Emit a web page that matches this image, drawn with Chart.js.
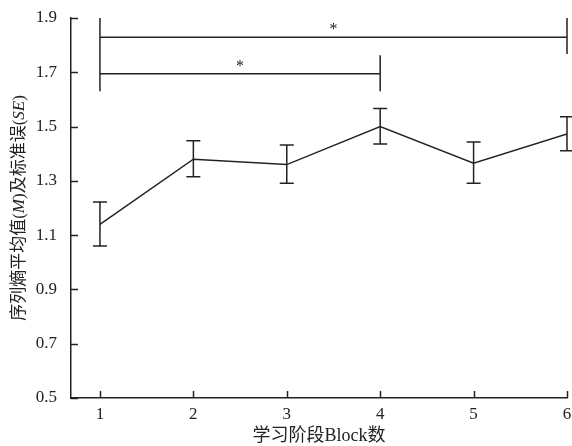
<!DOCTYPE html>
<html>
<head>
<meta charset="utf-8">
<script src="https://cdn.jsdelivr.net/npm/chart.js@4/dist/chart.umd.min.js"></script>
<style>
html,body{margin:0;padding:0;background:#fff;}
#wrap{width:572px;height:446px;}
</style>
</head>
<body>
<div id="wrap"><canvas id="c" width="572" height="446"></canvas></div>
<script>
// ---- data ----
const blocks = [1, 2, 3, 4, 5, 6];
const meanValues = [1.14, 1.38, 1.36, 1.50, 1.365, 1.473];
const errUpper = [1.222, 1.448, 1.432, 1.567, 1.443, 1.536];
const errLower = [1.060, 1.315, 1.291, 1.436, 1.291, 1.411];
const yTickValues = [0.5, 0.7, 0.9, 1.1, 1.3, 1.5, 1.7, 1.9];
const xTickValues = [1, 2, 3, 4, 5, 6];
// significance brackets
const bracketFrom = [1, 1];
const bracketTo = [6, 4];
const bracketLevel = [1.829, 1.695];
const bracketFromTop = [1.9, 1.9];
const bracketFromBottom = [1.63, 1.63];
const bracketToTop = [1.9, 1.763];
const bracketToBottom = [1.767, 1.63];
const bracketLabel = ['*', '*'];
const yTitleParts = [['序列熵平均值(', false], ['M', true], [')及标准误(', false], ['SE', true], [')', false]];
const xTitle = '学习阶段Block数';

const INK = '#222';
const SERIF = '"Liberation Serif", "Times New Roman", serif';
const CJK = '"Liberation Serif", "Noto Sans CJK SC", serif';

const extras = {
  id: 'extras',
  afterDatasetsDraw(chart) {
    const ctx = chart.ctx;
    const xs = chart.scales.x, ys = chart.scales.y;
    const area = chart.chartArea;
    ctx.save();
    ctx.strokeStyle = INK;
    ctx.fillStyle = INK;
    ctx.lineWidth = 1.5;
    // inward ticks
    ctx.beginPath();
    yTickValues.forEach(v => {
      const py = Math.round(ys.getPixelForValue(v)) + 0.5;
      ctx.moveTo(area.left, py); ctx.lineTo(area.left + 7, py);
    });
    xTickValues.forEach(v => {
      const px = Math.round(xs.getPixelForValue(v)) + 0.5;
      ctx.moveTo(px, area.bottom); ctx.lineTo(px, area.bottom - 7);
    });
    ctx.stroke();
    // error bars
    ctx.beginPath();
    blocks.forEach((b, i) => {
      const px = xs.getPixelForValue(b);
      const pt = ys.getPixelForValue(errUpper[i]);
      const pb = ys.getPixelForValue(errLower[i]);
      ctx.moveTo(px, pt); ctx.lineTo(px, pb);
      ctx.moveTo(px - 7, pt); ctx.lineTo(px + 7, pt);
      ctx.moveTo(px - 7, pb); ctx.lineTo(px + 7, pb);
    });
    ctx.stroke();
    // brackets
    ctx.beginPath();
    bracketFrom.forEach((f, i) => {
      const x1 = xs.getPixelForValue(f), x2 = xs.getPixelForValue(bracketTo[i]);
      const yl = ys.getPixelForValue(bracketLevel[i]);
      ctx.moveTo(x1, yl); ctx.lineTo(x2, yl);
      ctx.moveTo(x1, ys.getPixelForValue(bracketFromTop[i])); ctx.lineTo(x1, ys.getPixelForValue(bracketFromBottom[i]));
      ctx.moveTo(x2, ys.getPixelForValue(bracketToTop[i])); ctx.lineTo(x2, ys.getPixelForValue(bracketToBottom[i]));
    });
    ctx.stroke();
    ctx.font = '16px ' + SERIF;
    ctx.textAlign = 'center';
    ctx.textBaseline = 'middle';
    bracketFrom.forEach((f, i) => {
      const xm = xs.getPixelForValue((f + bracketTo[i]) / 2);
      const yl = ys.getPixelForValue(bracketLevel[i]);
      ctx.fillText(bracketLabel[i], xm, yl - 7);
    });
    // x title
    ctx.font = '18px ' + CJK;
    ctx.textBaseline = 'middle';
    ctx.fillText(xTitle, (area.left + area.right) / 2, 436);
    // y title (rotated, mixed italic)
    ctx.translate(20, (area.top + area.bottom) / 2);
    ctx.rotate(-Math.PI / 2);
    const fonts = yTitleParts.map(p => (p[1] ? 'italic ' : '') + '17px ' + CJK);
    let total = 0;
    yTitleParts.forEach((p, i) => { ctx.font = fonts[i]; total += ctx.measureText(p[0]).width; });
    let cx = -total / 2;
    ctx.textAlign = 'left';
    yTitleParts.forEach((p, i) => {
      ctx.font = fonts[i];
      ctx.fillText(p[0], cx, 0);
      cx += ctx.measureText(p[0]).width;
    });
    ctx.restore();
  }
};

new Chart(document.getElementById('c'), {
  type: 'line',
  data: {
    datasets: [{
      data: blocks.map((b, i) => ({ x: b, y: meanValues[i] })),
      borderColor: INK,
      borderWidth: 1.5,
      pointRadius: 0,
      tension: 0,
      fill: false
    }]
  },
  options: {
    responsive: false,
    animation: false,
    devicePixelRatio: 1,
    layout: { padding: { left: 0, right: 5, top: 18, bottom: 0 } },
    plugins: { legend: { display: false }, tooltip: { enabled: false } },
    scales: {
      x: {
        type: 'linear',
        min: 0.69, max: 6,
        afterBuildTicks: s => { s.ticks = xTickValues.map(v => ({ value: v })); },
        afterFit: s => { s.height = 48; s.paddingLeft = 0; s.paddingRight = 0; },
        grid: { display: false, drawTicks: false },
        border: { display: true, color: INK, width: 1.5 },
        ticks: { color: INK, font: { family: SERIF, size: 17 }, padding: 6, maxRotation: 0, autoSkip: false, callback: v => String(v) }
      },
      y: {
        min: 0.5, max: 1.9,
        afterBuildTicks: s => { s.ticks = yTickValues.map(v => ({ value: v })); },
        afterFit: s => { s.width = 71; s.paddingTop = 0; s.paddingBottom = 0; },
        grid: { display: false, drawTicks: false },
        border: { display: true, color: INK, width: 1.5 },
        ticks: { color: INK, font: { family: SERIF, size: 17 }, padding: 14, callback: v => Number(v).toFixed(1) }
      }
    }
  },
  plugins: [extras]
});
</script>
</body>
</html>
